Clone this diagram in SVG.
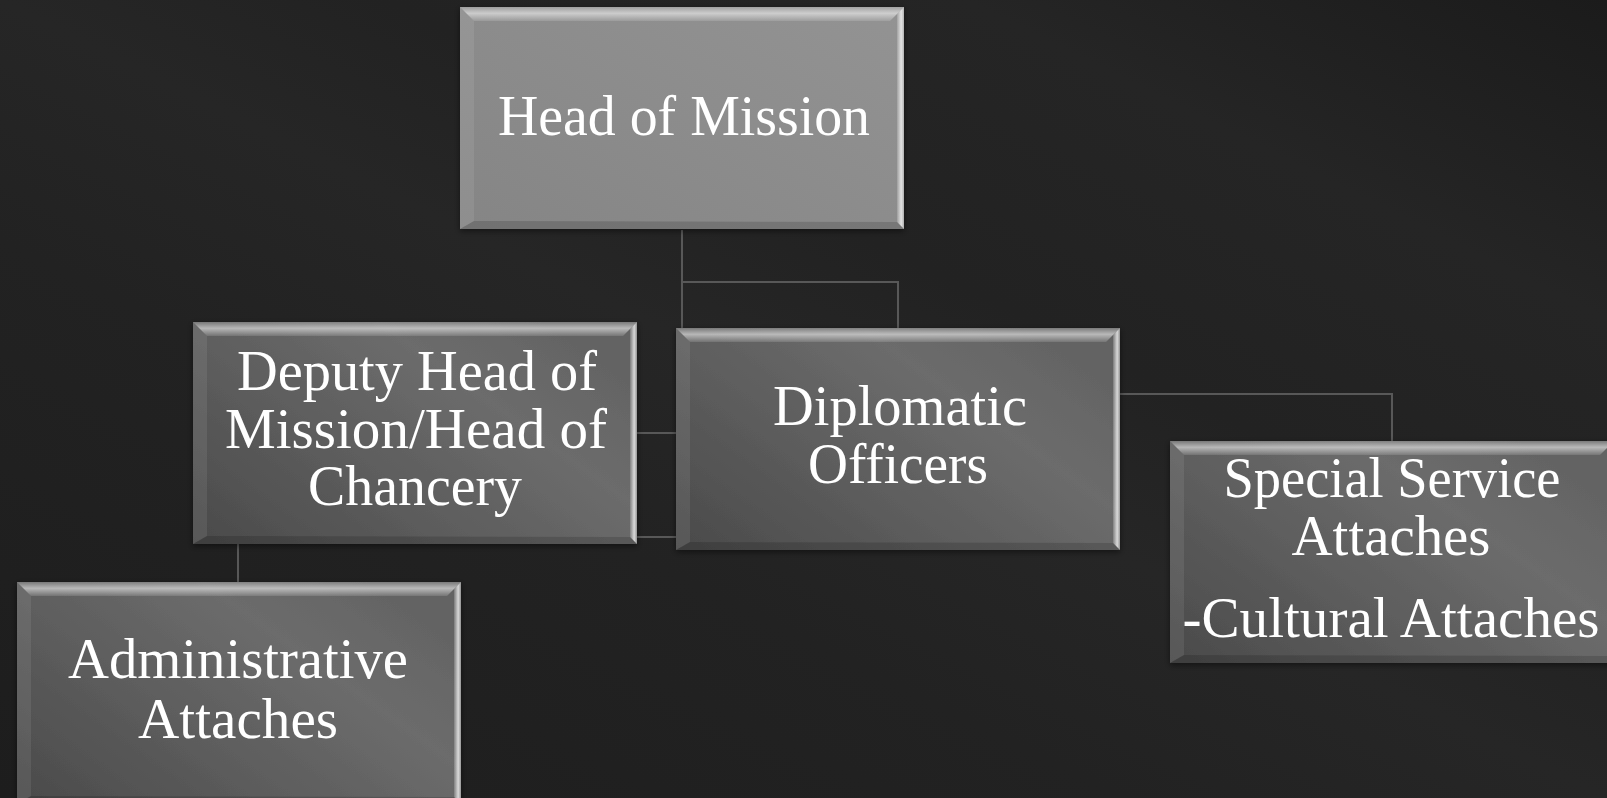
<svg xmlns="http://www.w3.org/2000/svg" xmlns:xlink="http://www.w3.org/1999/xlink" width="1607" height="798" viewBox="0 0 1607 798">
  <defs>
    <linearGradient id="bg" x1="0" y1="1" x2="1" y2="0">
      <stop offset="0" stop-color="#1d1d1d"/>
      <stop offset="0.35" stop-color="#222222"/>
      <stop offset="0.5" stop-color="#262626"/>
      <stop offset="0.62" stop-color="#222222"/>
      <stop offset="0.8" stop-color="#252525"/>
      <stop offset="1" stop-color="#1b1b1b"/>
    </linearGradient>
    <linearGradient id="bodyLight" x1="0" y1="1" x2="1" y2="0">
      <stop offset="0" stop-color="#858585"/>
      <stop offset="1" stop-color="#939393"/>
    </linearGradient>
    <linearGradient id="bodyDark" x1="0" y1="1" x2="1" y2="0.3">
      <stop offset="0" stop-color="#4a4a4a"/>
      <stop offset="0.75" stop-color="#6c6c6c"/>
      <stop offset="1" stop-color="#646464"/>
    </linearGradient>
    <linearGradient id="topBevel" x1="0" y1="0" x2="0" y2="1">
      <stop offset="0" stop-color="#ffffff" stop-opacity="0.15"/>
      <stop offset="0.45" stop-color="#ffffff" stop-opacity="0.55"/>
      <stop offset="1" stop-color="#ffffff" stop-opacity="0.12"/>
    </linearGradient>
    <linearGradient id="rightBevel" x1="0" y1="0" x2="1" y2="0">
      <stop offset="0" stop-color="#ffffff" stop-opacity="0.15"/>
      <stop offset="0.6" stop-color="#ffffff" stop-opacity="0.75"/>
      <stop offset="1" stop-color="#ffffff" stop-opacity="0.3"/>
    </linearGradient>
    <filter id="shadow" x="-10%" y="-10%" width="120%" height="120%">
      <feDropShadow dx="0" dy="2" stdDeviation="3" flood-color="#000" flood-opacity="0.5"/>
    </filter>
    <!-- bevelled edge overlay for a 444 x 222 box -->
    <g id="bevel">
      <polygon points="0,0 444,0 430,14 14,14" fill="url(#topBevel)"/>
      <polygon points="0,0 14,14 14,214 0,222" fill="#ffffff" fill-opacity="0.08"/>
      <polygon points="444,0 444,222 437,215 437,7" fill="url(#rightBevel)"/>
      <polygon points="0,222 444,222 437,215 14,214" fill="#000000" fill-opacity="0.15"/>
    </g>
    <style>
      .conn { fill: none; stroke: #585858; stroke-width: 2; }
      .label { font-family: "Liberation Serif", "DejaVu Serif", serif; font-size: 57px; fill: #ffffff; text-anchor: middle; }
    </style>
  </defs>

  <rect width="1607" height="798" fill="url(#bg)"/>

  <!-- connectors -->
  <g id="connectors">
    <path class="conn" d="M682 230 V537 H238 V582"/>
    <path class="conn" d="M682 433 H637"/>
    <path class="conn" d="M682 282 H898 V328"/>
    <path class="conn" d="M1120 394 H1392 V441"/>
  </g>

  <g id="node-head">
    <g transform="translate(460,7)">
      <rect width="444" height="222" fill="url(#bodyLight)" filter="url(#shadow)"/>
      <use xlink:href="#bevel"/>
    </g>
    <text class="label" x="684" y="135" textLength="372" lengthAdjust="spacingAndGlyphs">Head of Mission</text>
  </g>

  <g id="node-deputy">
    <g transform="translate(193,322)">
      <rect width="444" height="222" fill="url(#bodyDark)" filter="url(#shadow)"/>
      <use xlink:href="#bevel"/>
    </g>
    <text class="label" x="417" y="390" textLength="360" lengthAdjust="spacingAndGlyphs">Deputy Head of</text>
    <text class="label" x="416" y="448" textLength="382" lengthAdjust="spacingAndGlyphs">Mission/Head of</text>
    <text class="label" x="415" y="505" textLength="214" lengthAdjust="spacingAndGlyphs">Chancery</text>
  </g>

  <g id="node-diplomatic">
    <g transform="translate(676,328)">
      <rect width="444" height="222" fill="url(#bodyDark)" filter="url(#shadow)"/>
      <use xlink:href="#bevel"/>
    </g>
    <text class="label" x="900" y="425" textLength="254" lengthAdjust="spacingAndGlyphs">Diplomatic</text>
    <text class="label" x="898" y="483" textLength="180" lengthAdjust="spacingAndGlyphs">Officers</text>
  </g>

  <g id="node-special">
    <g transform="translate(1170,441)">
      <rect width="444" height="222" fill="url(#bodyDark)" filter="url(#shadow)"/>
      <use xlink:href="#bevel"/>
    </g>
    <text class="label" x="1392" y="497" textLength="337" lengthAdjust="spacingAndGlyphs">Special Service</text>
    <text class="label" x="1391" y="555" textLength="199" lengthAdjust="spacingAndGlyphs">Attaches</text>
    <text class="label" x="1391" y="637" textLength="417" lengthAdjust="spacingAndGlyphs">-Cultural Attaches</text>
  </g>

  <g id="node-admin">
    <g transform="translate(17,582)">
      <rect width="444" height="222" fill="url(#bodyDark)" filter="url(#shadow)"/>
      <use xlink:href="#bevel"/>
    </g>
    <text class="label" x="238" y="678" textLength="340" lengthAdjust="spacingAndGlyphs">Administrative</text>
    <text class="label" x="238" y="738" textLength="200" lengthAdjust="spacingAndGlyphs">Attaches</text>
  </g>
</svg>
